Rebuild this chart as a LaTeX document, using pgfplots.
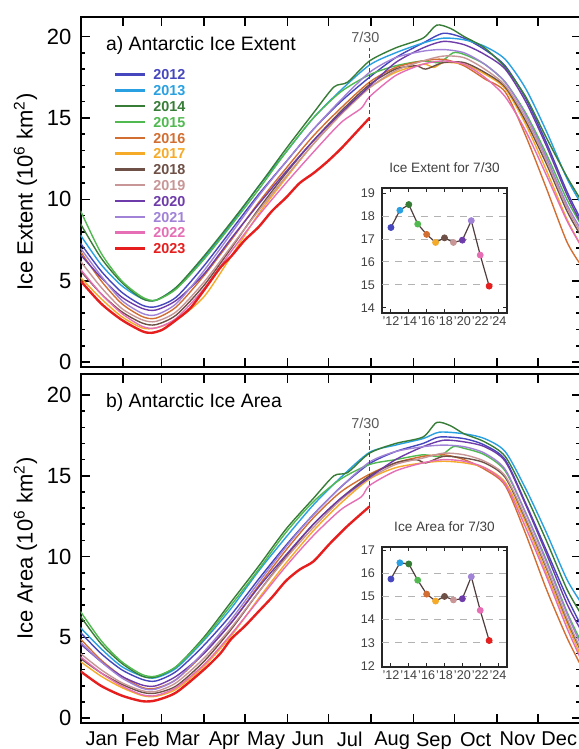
\documentclass[border=0pt]{standalone}
\usepackage{fontspec}
\setmainfont{Liberation Sans}
\usepackage{pgfplots}
\pgfplotsset{compat=1.18}
\definecolor{c2012}{RGB}{70,70,190}
\definecolor{c2013}{RGB}{40,160,225}
\definecolor{c2014}{RGB}{55,125,55}
\definecolor{c2015}{RGB}{80,185,80}
\definecolor{c2016}{RGB}{210,110,50}
\definecolor{c2017}{RGB}{245,170,40}
\definecolor{c2018}{RGB}{110,80,70}
\definecolor{c2019}{RGB}{200,150,150}
\definecolor{c2020}{RGB}{110,60,170}
\definecolor{c2021}{RGB}{160,130,215}
\definecolor{c2022}{RGB}{230,110,180}
\definecolor{c2023}{RGB}{230,30,30}
\definecolor{conn}{RGB}{80,62,62}
\pgfplotsset{
 mainax/.style={
  scale only axis, width=250pt,
  xmin=0, xmax=365, ymin=-0.3,
  /pgf/number format/assume math mode=true,
  axis line style={line width=1pt},
  tick style={line width=0.8pt, black},
  major tick length=4.5pt, minor tick length=2.3pt,
  tick align=inside,
  xtick={31,59,90,120,151,181,212,243,273,304,334},
  xticklabels={},
  ytick={0,5,10,15,20}, minor y tick num=4,
  yticklabel style={font=\fontsize{11}{11}\selectfont, xshift=-1pt},
  ylabel style={at={(axis description cs:-0.11,0.5)}, anchor=center, font=\fontsize{11}{11}\selectfont},
  every axis plot/.append style={line width=0.7pt, smooth, tension=0.45},
 },
 inset/.style={
  scale only axis, width=62.5pt,
  xmin=2011, xmax=2025,
  /pgf/number format/assume math mode=true,
  axis line style={line width=0.6pt, black!85},
  tick style={line width=0.5pt, black!85},
  major tick length=2pt, minor tick length=1.2pt,
  tick align=inside,
  xtick={2012,2014,...,2024}, minor x tick num=1,
  xticklabels={'12,'14,'16,'18,'20,'22,'24},
  ticklabel style={font=\fontsize{6.3}{6.3}\selectfont, text=black!75},
  xticklabel style={inner sep=1.5pt},
  title style={font=\fontsize{6.8}{6.8}\selectfont, text=black!75, inner sep=1.5pt},
 },
 yrcls/.style={scatter, only marks, mark=*, mark size=1.5pt, scatter src=explicit symbolic,
  scatter/classes={
   a={mark=*,fill=c2012,draw=c2012}, b={mark=*,fill=c2013,draw=c2013},
   c={mark=*,fill=c2014,draw=c2014}, d={mark=*,fill=c2015,draw=c2015},
   e={mark=*,fill=c2016,draw=c2016}, f={mark=*,fill=c2017,draw=c2017},
   g={mark=*,fill=c2018,draw=c2018}, h={mark=*,fill=c2019,draw=c2019},
   i={mark=*,fill=c2020,draw=c2020}, j={mark=*,fill=c2021,draw=c2021},
   k={mark=*,fill=c2022,draw=c2022}, l={mark=*,fill=c2023,draw=c2023}}},
}
\begin{document}
\begin{tikzpicture}
\useasboundingbox (0,0) rectangle (289pt,374.5pt);
% ---------------- top: extent
\begin{axis}[mainax, at={(40.25pt,191pt)}, anchor=south west, height=175pt, ymax=21.2,
  ylabel={Ice Extent (10\textsuperscript{6} km\textsuperscript{2})},
  legend style={draw=none, fill=none, at={(0.067,0.853)}, anchor=north west,
   inner sep=0pt, outer sep=0pt, row sep=1.7pt, column sep=3pt,
   font=\fontsize{7.2}{7.2}\bfseries\selectfont,
   nodes={inner sep=0.5pt, text height=5.2pt, text depth=0pt}},
  legend cell align=left,
  legend image code/.code={\draw[#1, line width=1.2pt] (0pt,0pt) -- (15pt,0pt);}]
\addplot[c2012] coordinates {(0,7.3)(15,5.6)(30,4.3)(45,3.5)(55,3.4)(70,4.0)(90,5.9)(110,8.1)(130,10.3)(150,12.3)(170,14.3)(190,16.0)(211,17.5)(230,18.7)(250,19.6)(265,20.2)(280,19.9)(295,19.2)(310,18.2)(325,16.2)(340,13.5)(355,10.5)(365,8.8)};
\addlegendentry{\textcolor{c2012}{2012}}
\addplot[c2013] coordinates {(0,7.8)(15,6.0)(30,4.7)(45,3.9)(55,3.8)(70,4.6)(90,6.4)(110,8.5)(130,10.8)(150,12.9)(170,15.0)(190,16.7)(211,18.25)(230,19.0)(250,19.6)(265,19.9)(280,19.8)(295,19.4)(310,18.6)(325,16.8)(340,14.2)(355,11.3)(365,9.8)};
\addlegendentry{\textcolor{c2013}{2013}}
\addplot[c2014] coordinates {(0,8.5)(15,6.4)(30,4.9)(45,3.9)(55,3.8)(70,4.6)(90,6.5)(110,8.6)(130,10.8)(150,13.1)(170,15.3)(185,16.9)(195,17.2)(211,18.5)(230,19.3)(250,19.9)(260,20.7)(270,20.5)(280,20.0)(295,19.3)(310,18.1)(325,16.3)(340,13.8)(355,11.4)(365,10.0)};
\addlegendentry{\textcolor{c2014}{2014}}
\addplot[c2015] coordinates {(0,9.3)(15,6.7)(30,5.0)(45,4.0)(55,3.8)(70,4.5)(90,6.3)(110,8.4)(130,10.6)(150,12.9)(170,15.0)(190,16.6)(211,17.65)(230,18.2)(250,18.5)(262,18.4)(272,19.0)(280,18.9)(295,18.3)(310,17.2)(325,15.3)(340,12.8)(355,10.0)(365,8.5)};
\addlegendentry{\textcolor{c2015}{2015}}
\addplot[c2016] coordinates {(0,6.8)(15,5.0)(30,3.6)(45,2.8)(55,2.7)(70,3.4)(90,5.3)(110,7.5)(130,9.8)(150,11.9)(170,13.9)(190,15.6)(211,17.2)(230,18.1)(250,18.5)(265,18.6)(280,18.2)(295,17.4)(310,16.6)(325,13.9)(340,10.7)(355,7.4)(365,6.0)};
\addlegendentry{\textcolor{c2016}{2016}}
\addplot[c2017] coordinates {(0,5.2)(15,3.9)(30,2.8)(45,2.1)(55,2.1)(70,2.6)(90,4.0)(110,6.5)(130,9.1)(150,11.3)(170,13.4)(190,15.2)(211,16.85)(230,17.8)(250,18.3)(258,18.1)(265,18.4)(280,18.3)(295,17.7)(310,16.8)(325,14.6)(340,11.8)(355,8.8)(365,7.2)};
\addlegendentry{\textcolor{c2017}{2017}}
\addplot[c2018] coordinates {(0,5.6)(15,4.2)(30,3.1)(45,2.4)(55,2.3)(70,2.9)(90,4.7)(110,7.0)(130,9.4)(150,11.6)(170,13.6)(190,15.4)(211,17.05)(230,18.0)(245,18.2)(252,18.0)(265,18.4)(280,18.4)(295,17.8)(310,16.9)(325,14.8)(340,12.2)(355,9.3)(365,7.8)};
\addlegendentry{\textcolor{c2018}{2018}}
\addplot[c2019] coordinates {(0,6.2)(15,4.6)(30,3.3)(45,2.6)(55,2.5)(70,3.1)(90,4.9)(110,7.1)(130,9.3)(150,11.4)(170,13.4)(190,15.2)(211,16.85)(230,17.9)(250,18.5)(265,18.8)(280,18.7)(295,18.0)(310,17.0)(325,15.0)(340,12.4)(355,9.5)(365,8.0)};
\addlegendentry{\textcolor{c2019}{2019}}
\addplot[c2020] coordinates {(0,6.6)(15,5.2)(30,4.0)(45,3.3)(55,3.2)(70,3.8)(90,5.4)(110,7.6)(130,9.7)(150,11.7)(170,13.6)(190,15.3)(211,16.95)(230,18.4)(250,19.3)(265,19.7)(280,19.5)(295,18.9)(310,18.0)(325,16.0)(340,13.3)(355,10.3)(365,8.6)};
\addlegendentry{\textcolor{c2020}{2020}}
\addplot[c2021] coordinates {(0,7.0)(15,5.3)(30,3.8)(45,3.0)(55,2.9)(70,3.6)(90,5.6)(110,7.9)(130,10.2)(150,12.3)(170,14.3)(190,16.1)(211,17.8)(230,18.7)(250,19.1)(265,19.2)(280,19.0)(295,18.3)(310,17.2)(325,15.2)(340,12.6)(355,9.7)(365,8.2)};
\addlegendentry{\textcolor{c2021}{2021}}
\addplot[c2022] coordinates {(0,5.7)(15,4.2)(30,3.0)(45,2.2)(55,2.1)(70,2.7)(90,4.5)(110,6.8)(130,9.0)(150,11.0)(170,12.9)(190,14.7)(205,15.6)(211,16.3)(230,17.6)(250,18.3)(265,18.5)(280,18.3)(295,17.5)(310,16.3)(325,14.2)(340,11.5)(355,8.7)(365,7.2)};
\addlegendentry{\textcolor{c2022}{2022}}
\addplot[c2023, line width=1.2pt] coordinates {(0,5.0)(15,3.6)(30,2.6)(45,1.9)(52,1.8)(60,2.0)(70,2.6)(80,3.3)(90,4.4)(102,5.8)(110,6.5)(120,7.5)(130,8.3)(140,9.3)(150,10.1)(160,11.0)(170,11.6)(180,12.3)(190,13.1)(200,14.0)(211,15.0)};
\addlegendentry{\textcolor{c2023}{2023}}
\addplot[forget plot, black!70, line width=0.5pt, dash pattern=on 2pt off 1.5pt] coordinates {(211,14.4) (211,19.3)};
\node[font=\fontsize{7.2}{7.2}\selectfont, text=black!65] at (axis cs:208,19.95) {7/30};
\node[anchor=west, font=\fontsize{9.7}{9.7}\selectfont] at (rel axis cs:0.037,0.92) {a) Antarctic Ice Extent};
\end{axis}
% ---------------- bottom: area
\begin{axis}[mainax, at={(40.25pt,13pt)}, anchor=south west, height=174.5pt, ymax=21.3,
  ylabel={Ice Area (10\textsuperscript{6} km\textsuperscript{2})},
  extra x ticks={15.5,45,74.5,105,135.5,166,196.5,227.5,258,288.5,319,349.5},
  extra x tick labels={Jan,Feb,Mar,Apr,May,Jun,Jul,Aug,Sep,Oct,Nov,Dec},
  extra x tick style={major tick length=0pt, xticklabel style={font=\fontsize{10}{10}\selectfont, yshift=-1pt}}]
\addplot[c2012] coordinates {(0,5.3)(15,4.0)(30,3.0)(45,2.4)(55,2.3)(70,2.9)(90,4.5)(110,6.4)(130,8.6)(150,10.7)(170,12.6)(190,14.3)(211,15.75)(230,16.5)(250,17.0)(262,17.4)(280,17.3)(295,16.9)(310,16.0)(325,13.3)(340,10.4)(355,7.5)(365,5.8)};
\addplot[c2013] coordinates {(0,5.6)(15,4.3)(30,3.2)(45,2.6)(55,2.5)(70,3.1)(90,4.8)(110,6.8)(130,9.1)(150,11.2)(170,13.2)(190,14.9)(211,16.45)(230,16.9)(250,17.3)(262,17.7)(280,17.6)(295,17.3)(310,16.5)(325,14.2)(340,11.5)(355,8.6)(365,7.2)};
\addplot[c2014] coordinates {(0,6.3)(15,4.6)(30,3.4)(45,2.6)(55,2.55)(70,3.2)(90,5.0)(110,7.2)(130,9.4)(150,11.7)(170,13.6)(185,15.0)(195,15.2)(211,16.4)(230,17.0)(250,17.4)(260,18.3)(270,18.1)(280,17.6)(295,17.1)(310,16.2)(325,13.8)(340,11.0)(355,8.0)(365,6.5)};
\addplot[c2015] coordinates {(0,6.6)(15,4.8)(30,3.5)(45,2.7)(55,2.6)(70,3.2)(90,4.9)(110,7.0)(130,9.2)(150,11.5)(170,13.4)(190,14.8)(211,15.7)(230,16.0)(250,16.3)(262,16.2)(272,16.8)(280,16.7)(295,16.3)(310,15.3)(325,12.7)(340,9.8)(355,6.6)(365,4.8)};
\addplot[c2016] coordinates {(0,4.9)(15,3.6)(30,2.6)(45,1.9)(55,1.85)(70,2.4)(90,4.0)(110,5.9)(130,8.2)(150,10.4)(170,12.4)(190,14.0)(211,15.1)(230,15.8)(250,16.2)(265,16.3)(280,16.0)(295,15.4)(310,14.4)(325,11.4)(340,8.0)(355,5.0)(365,3.3)};
\addplot[c2017] coordinates {(0,3.5)(15,2.6)(30,1.9)(45,1.4)(55,1.35)(70,1.8)(90,3.2)(110,5.1)(130,7.4)(150,9.6)(170,11.6)(190,13.3)(211,14.8)(230,15.5)(250,15.8)(265,15.9)(280,15.8)(295,15.5)(310,14.6)(325,12.1)(340,9.0)(355,5.9)(365,3.9)};
\addplot[c2018] coordinates {(0,3.7)(15,2.8)(30,2.1)(45,1.6)(55,1.55)(70,2.0)(90,3.5)(110,5.5)(130,7.8)(150,10.0)(170,12.0)(190,13.6)(211,15.0)(230,15.8)(245,16.0)(252,15.8)(265,16.2)(280,16.1)(295,15.8)(310,14.9)(325,12.3)(340,9.3)(355,6.1)(365,4.2)};
\addplot[c2019] coordinates {(0,4.0)(15,3.0)(30,2.2)(45,1.7)(55,1.65)(70,2.2)(90,3.7)(110,5.6)(130,7.8)(150,9.9)(170,11.8)(190,13.5)(211,14.85)(230,15.7)(250,16.1)(265,16.4)(280,16.3)(295,15.9)(310,15.0)(325,12.4)(340,9.4)(355,6.2)(365,4.3)};
\addplot[c2020] coordinates {(0,4.6)(15,3.5)(30,2.6)(45,2.05)(55,2.0)(70,2.6)(90,4.0)(110,5.9)(130,8.1)(150,10.1)(170,12.0)(190,13.6)(211,14.9)(230,16.0)(250,16.8)(265,17.2)(280,17.1)(295,16.8)(310,15.9)(325,13.2)(340,10.2)(355,7.1)(365,5.5)};
\addplot[c2021] coordinates {(0,4.7)(15,3.5)(30,2.5)(45,1.85)(55,1.8)(70,2.4)(90,4.1)(110,6.1)(130,8.4)(150,10.6)(170,12.6)(190,14.3)(211,15.85)(230,16.5)(250,16.8)(265,16.9)(280,16.8)(295,16.4)(310,15.4)(325,12.7)(340,9.7)(355,6.5)(365,4.6)};
\addplot[c2022] coordinates {(0,3.8)(15,2.8)(30,2.0)(45,1.45)(55,1.4)(70,1.9)(90,3.3)(110,5.2)(130,7.3)(150,9.4)(170,11.3)(190,12.9)(205,13.7)(211,14.4)(230,15.3)(250,15.8)(265,16.0)(280,15.9)(295,15.5)(310,14.5)(325,11.8)(340,8.8)(355,5.6)(365,3.7)};
\addplot[c2023, line width=1.2pt] coordinates {(0,2.9)(15,2.0)(30,1.4)(45,1.05)(55,1.1)(70,1.6)(90,3.0)(102,4.0)(110,4.9)(120,5.7)(130,6.6)(140,7.5)(150,8.5)(160,9.2)(170,9.7)(182,10.8)(195,11.9)(211,13.1)};
\addplot[black!70, line width=0.5pt, dash pattern=on 2pt off 1.5pt] coordinates {(211,12.7) (211,17.65)};
\node[font=\fontsize{7.2}{7.2}\selectfont, text=black!65] at (axis cs:208,18.25) {7/30};
\node[anchor=west, font=\fontsize{9.7}{9.7}\selectfont] at (rel axis cs:0.037,0.917) {b) Antarctic Ice Area};
\end{axis}
% ---------------- top inset
\begin{axis}[inset, at={(191pt,218pt)}, anchor=south west, height=62.5pt,
  ymin=13.78, ymax=19.22, ytick={14,15,16,17,18,19},
  title={Ice Extent for 7/30}]
\foreach \v in {15,16,17,18}{\edef\temp{\noexpand\addplot[black!30, line width=0.5pt, dash pattern=on 3.5pt off 3pt] coordinates {(2011,\v) (2025,\v)};}\temp}
\addplot[conn, line width=0.6pt] coordinates {(2012,17.5)(2013,18.25)(2014,18.5)(2015,17.65)(2016,17.2)(2017,16.85)(2018,17.05)(2019,16.85)(2020,16.95)(2021,17.8)(2022,16.3)(2023,14.95)};
\addplot[yrcls] table[meta=c, row sep=\\] {x y c\\ 2012 17.5 a\\ 2013 18.25 b\\ 2014 18.5 c\\ 2015 17.65 d\\ 2016 17.2 e\\ 2017 16.85 f\\ 2018 17.05 g\\ 2019 16.85 h\\ 2020 16.95 i\\ 2021 17.8 j\\ 2022 16.3 k\\ 2023 14.95 l\\};
\end{axis}
% ---------------- bottom inset
\begin{axis}[inset, at={(191pt,41pt)}, anchor=south west, height=60pt,
  ymin=11.96, ymax=17.13, ytick={12,13,14,15,16,17},
  title={Ice Area for 7/30}]
\foreach \v in {13,14,15,16}{\edef\temp{\noexpand\addplot[black!30, line width=0.5pt, dash pattern=on 3.5pt off 3pt] coordinates {(2011,\v) (2025,\v)};}\temp}
\addplot[conn, line width=0.6pt] coordinates {(2012,15.75)(2013,16.45)(2014,16.4)(2015,15.7)(2016,15.1)(2017,14.8)(2018,15.0)(2019,14.85)(2020,14.9)(2021,15.85)(2022,14.4)(2023,13.1)};
\addplot[yrcls] table[meta=c, row sep=\\] {x y c\\ 2012 15.75 a\\ 2013 16.45 b\\ 2014 16.4 c\\ 2015 15.7 d\\ 2016 15.1 e\\ 2017 14.8 f\\ 2018 15.0 g\\ 2019 14.85 h\\ 2020 14.9 i\\ 2021 15.85 j\\ 2022 14.4 k\\ 2023 13.1 l\\};
\end{axis}
\end{tikzpicture}
\end{document}
